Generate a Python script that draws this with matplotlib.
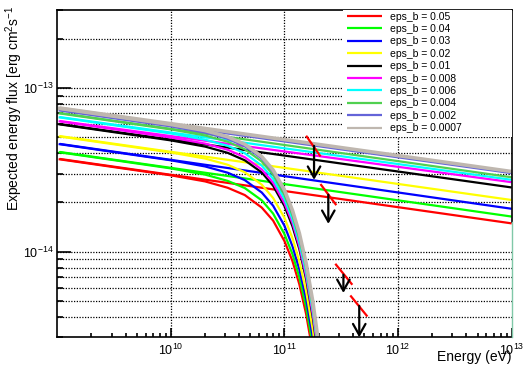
import numpy as np
import matplotlib.pyplot as plt
from matplotlib.patches import FancyArrowPatch, Rectangle

plt.rcParams['font.family'] = ['Liberation Sans', 'DejaVu Sans']
plt.rcParams['mathtext.fontset'] = 'custom'
plt.rcParams['mathtext.rm'] = 'Liberation Sans'
plt.rcParams['mathtext.it'] = 'Liberation Sans:italic'
plt.rcParams['mathtext.bf'] = 'Liberation Sans:bold'

# epsilon_B values and line colours
eps_b = ['0.05', '0.04', '0.03', '0.02', '0.01', '0.008', '0.006', '0.004', '0.002', '0.0007']
colors = ['#ff0000', '#00ff00', '#0000ff', '#ffff00', '#000000',
          '#ff00ff', '#00ffff', '#50d050', '#6464d8', '#bfb7af']

# power-law branch: flux at both ends of the energy range [erg cm^-2 s^-1]
pl_energy = [1.05e9, 1e13]
pl_flux = [
    [3.69e-14, 1.49e-14],
    [4.07e-14, 1.64e-14],
    [4.56e-14, 1.83e-14],
    [5.09e-14, 2.07e-14],
    [6.03e-14, 2.47e-14],
    [6.29e-14, 2.66e-14],
    [6.65e-14, 2.75e-14],
    [7.04e-14, 2.85e-14],
    [7.34e-14, 3.02e-14],
    [7.55e-14, 3.09e-14],
]

# cut-off branch
cut_energy = [1.05e9, 1e10, 2e10, 3.16e10, 4.47e10, 6.31e10, 7.94e10,
              1e11, 1.175e11, 1.35e11, 1.55e11, 1.78e11, 2e11]
cut_flux = [
    [3.67, 2.93, 2.69, 2.46, 2.22, 1.86, 1.55, 1.16, 0.877, 0.634, 0.416, 0.239, 0.133],
    [4.05, 3.23, 2.96, 2.71, 2.45, 2.06, 1.71, 1.28, 0.967, 0.699, 0.459, 0.264, 0.147],
    [4.54, 3.62, 3.32, 3.04, 2.74, 2.30, 1.91, 1.44, 1.08, 0.783, 0.514, 0.296, 0.164],
    [5.06, 4.04, 3.71, 3.40, 3.06, 2.57, 2.13, 1.61, 1.21, 0.874, 0.574, 0.330, 0.183],
    [6.00, 4.79, 4.39, 4.02, 3.62, 3.05, 2.53, 1.90, 1.43, 1.04, 0.680, 0.391, 0.217],
    [6.26, 4.99, 4.58, 4.20, 3.78, 3.18, 2.64, 1.98, 1.50, 1.08, 0.709, 0.408, 0.226],
    [6.62, 5.28, 4.84, 4.44, 4.00, 3.36, 2.79, 2.10, 1.58, 1.14, 0.749, 0.432, 0.239],
    [7.00, 5.59, 5.13, 4.70, 4.23, 3.56, 2.95, 2.22, 1.67, 1.21, 0.793, 0.457, 0.253],
    [7.30, 5.83, 5.34, 4.90, 4.41, 3.71, 3.08, 2.32, 1.74, 1.26, 0.827, 0.476, 0.264],
    [7.51, 5.99, 5.50, 5.04, 4.54, 3.81, 3.16, 2.38, 1.79, 1.30, 0.851, 0.490, 0.272],
]
cut_scale = 1e-14

# upper limits: red spectral segment + arrow
ul_seg_e = [[1.57e11, 2.05e11], [2.10e11, 2.82e11], [2.84e11, 3.90e11], [3.85e11, 5.29e11]]
ul_seg_f = [[5.05e-14, 3.87e-14], [2.56e-14, 1.95e-14], [8.34e-15, 6.36e-15], [5.34e-15, 4.07e-15]]
ul_arrow_e = [1.82e11, 2.43e11, 3.30e11, 4.55e11]
ul_arrow_top = [4.43e-14, 2.23e-14, 7.24e-15, 4.67e-15]
ul_arrow_bot = [2.75e-14, 1.48e-14, 5.60e-15, 3.0e-15]

W, H = 523, 365
fig = plt.figure(figsize=(W / 100, H / 100), dpi=100)
x0, x1, y0, y1 = 57.3, 511.7, 10, 337.3
ax = fig.add_axes([x0 / W, 1 - y1 / H, (x1 - x0) / W, (y1 - y0) / H])
ax.set_xscale('log')
ax.set_yscale('log')
ax.set_xlim(1e9, 1e13)
ax.set_ylim(3e-15, 3e-13)

# dotted grid: x at decades only, y at every tick
dot = dict(color='black', lw=0.9, ls=(0, (1, 1.2)), zorder=0.5)
for e in [1e10, 1e11, 1e12]:
    ax.axvline(e, **dot)
for v in [2e-13, 1e-13, 9e-14, 8e-14, 7e-14, 6e-14, 5e-14, 4e-14, 3e-14, 2e-14,
          1e-14, 9e-15, 8e-15, 7e-15, 6e-15, 5e-15, 4e-15]:
    ax.axhline(v, **dot)

lines = []
for i in range(len(eps_b)):
    lw = 2.6 if i == len(eps_b) - 1 else 1.6
    ln, = ax.plot(pl_energy, pl_flux[i], color=colors[i], lw=lw, zorder=2 + i * 0.01,
                  solid_capstyle='butt')
    ax.plot(cut_energy, np.array(cut_flux[i]) * cut_scale, color=colors[i], lw=lw,
            zorder=2 + i * 0.01)
    lines.append(ln)

for k in range(len(ul_arrow_e)):
    ax.plot(ul_seg_e[k], ul_seg_f[k], color='#ff0000', lw=1.6, zorder=4)
    arr = FancyArrowPatch((ul_arrow_e[k], ul_arrow_top[k]), (ul_arrow_e[k], ul_arrow_bot[k]),
                          arrowstyle='->,head_length=0.8,head_width=0.45', mutation_scale=10,
                          color='black', lw=1.6, zorder=5, clip_on=False,
                          shrinkA=0, shrinkB=0)
    ax.add_patch(arr)

# frame and ticks
for side in ['left', 'bottom', 'top']:
    ax.spines[side].set_linewidth(1.2)
ax.spines['right'].set_visible(False)
ax.plot([1, 1], [0.352, 1], transform=ax.transAxes, color='black', lw=1.2, clip_on=False, zorder=6)
ax.plot([1, 1], [0, 0.352], transform=ax.transAxes, color='#80c8a8', lw=1.0, clip_on=False, zorder=6)

ax.tick_params(axis='both', which='both', direction='in', labelsize=9, top=False, right=False)
ax.tick_params(axis='y', which='major', length=10, width=1.2, pad=3)
ax.tick_params(axis='y', which='minor', length=4.5, width=1.2)
ax.tick_params(axis='x', which='major', length=6.5, width=1.2, pad=4)
ax.tick_params(axis='x', which='minor', length=3.2, width=1.2)
ax.set_yticks([1e-14, 1e-13])
ax.set_yticklabels([r'$10^{-14}$', r'$10^{-13}$'])
ax.set_xticks([1e10, 1e11, 1e12, 1e13])
ax.set_xticklabels([r'$10^{10}$', r'$10^{11}$', r'$10^{12}$', r'$10^{13}$'])
ax.yaxis.set_minor_formatter(plt.NullFormatter())
ax.xaxis.set_minor_formatter(plt.NullFormatter())

fig.text(x1 / W, 1.5 / H, 'Energy (eV)', ha='right', va='bottom', fontsize=10)
fig.text(14 / W, 1 - 6 / H, r'Expected energy flux [erg cm$^{2}$s$^{-1}$',
         rotation=90, ha='center', va='top', fontsize=10)

# legend box: white, borderless, hides the grid behind it
ax.add_patch(Rectangle((343 / W, 1 - 137 / H), (x1 - 343) / W, 127 / H,
                       transform=fig.transFigure, facecolor='white', edgecolor='none',
                       zorder=9))
leg = ax.legend(lines, ['eps_b = ' + e for e in eps_b], loc='upper left',
                bbox_to_anchor=(344 / W, 1 - 9 / H), bbox_transform=fig.transFigure,
                fontsize=7.5, frameon=False, borderpad=0.25, labelspacing=0.23,
                handlelength=3.4, handletextpad=0.75, borderaxespad=0)
leg.set_zorder(10)
for h in leg.get_lines():
    h.set_linewidth(1.6)

fig.savefig('out.png', dpi=100)
